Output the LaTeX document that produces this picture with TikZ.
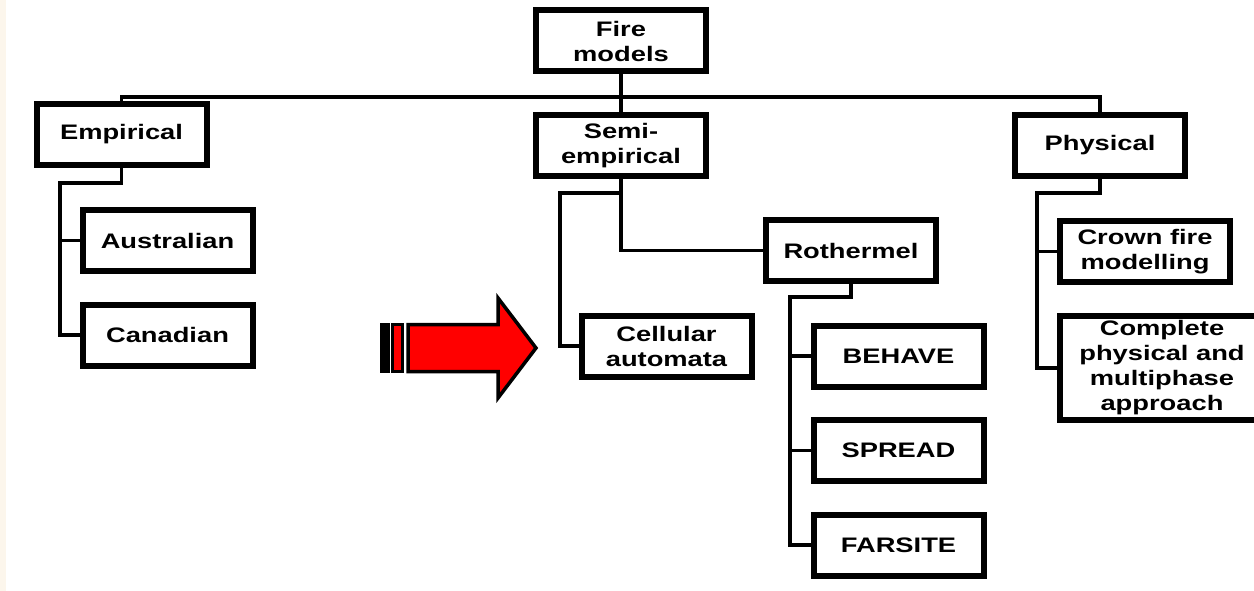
\documentclass[tikz,border=0pt]{standalone}
\usepackage{fontspec}
\newfontfamily\boxfont{Liberation Sans}[FakeStretch=1.3]
\usetikzlibrary{positioning}
\definecolor{edgecream}{HTML}{FCF6EC}
\tikzset{
  model/.style={draw, line width=6pt, fill=white, inner sep=0pt,
    minimum width=170pt, minimum height=61pt, align=center,
    font=\boxfont\bfseries\fontsize{21}{25}\selectfont},
  link/.style={line width=3.5pt},
}

\begin{document}
\begin{tikzpicture}[x=1pt,y=-1pt]
  \useasboundingbox (0,0) rectangle (1254,591);
  \fill[white] (0,0) rectangle (1254,591);
  \fill[edgecream] (0,0) rectangle (6,591);

  % boxes
  \node[model] (fire) at (621,41) {Fire\\models};
  \node[model] (emp) at (121.5,134.5) {Empirical};
  \node[model] (semi) at (621,145.5) {Semi-\\empirical};
  \node[model] (phys) at (1100,145.5) {Physical};
  \node[model] (aus) at (167.5,240.5) {Australian};
  \node[model] (can) [below=27.5pt of aus] {Canadian};
  \node[model] (roth) at (851,250.5) {Rothermel};
  \node[model] (cell) at (666.5,346) {Cellular\\automata};
  \node[model] (behave) at (898.5,356) {BEHAVE};
  \node[model] (spread) [below=27.5pt of behave] {SPREAD};
  \node[model] (farsite) [below=27.5pt of spread] {FARSITE};
  \node[model] (crown) at (1145,251.5) {Crown fire\\modelling};
  \node[model, minimum width=205pt, minimum height=104pt] (full) at (1162,368)
       {Complete\\physical and\\multiphase\\approach};

  % connectors
  \coordinate (bus) at (621,97);
  \coordinate (empfork) at (60,183);
  \coordinate (semifork) at (560,193);
  \coordinate (rothfork) at (790,297);
  \coordinate (physfork) at (1037,193);
  \draw[link] (fire) -- (semi);
  \draw[link] (emp.north) |- (bus) -| (phys.north);
  \draw[link] (emp.south) |- (empfork) |- (can.west);
  \draw[link] (empfork) |- (aus.west);
  \draw[link] (semi.south) |- (semifork) |- (cell.west);
  \draw[link] (semi.south) |- (roth.west);
  \draw[link] (roth.south) |- (rothfork) |- (farsite.west);
  \foreach \leaf in {behave,spread}
    \draw[link] (rothfork) |- (\leaf.west);
  \draw[link] (phys.south) |- (physfork) |- (full.west);
  \draw[link] (physfork) |- (crown.west);

  % striped arrow
  \fill[black] (380,323) rectangle (389.5,373);
  \draw[line width=3pt, fill=red] (392.5,324.5) rectangle (402,371.5);
  \draw[line width=3.5pt, fill=red, line join=miter]
    (408,324.5) -- (498,324.5) -- (498,298) -- (536,348)
    -- (498,398) -- (498,371.5) -- (408,371.5) -- cycle;
\end{tikzpicture}
\end{document}
